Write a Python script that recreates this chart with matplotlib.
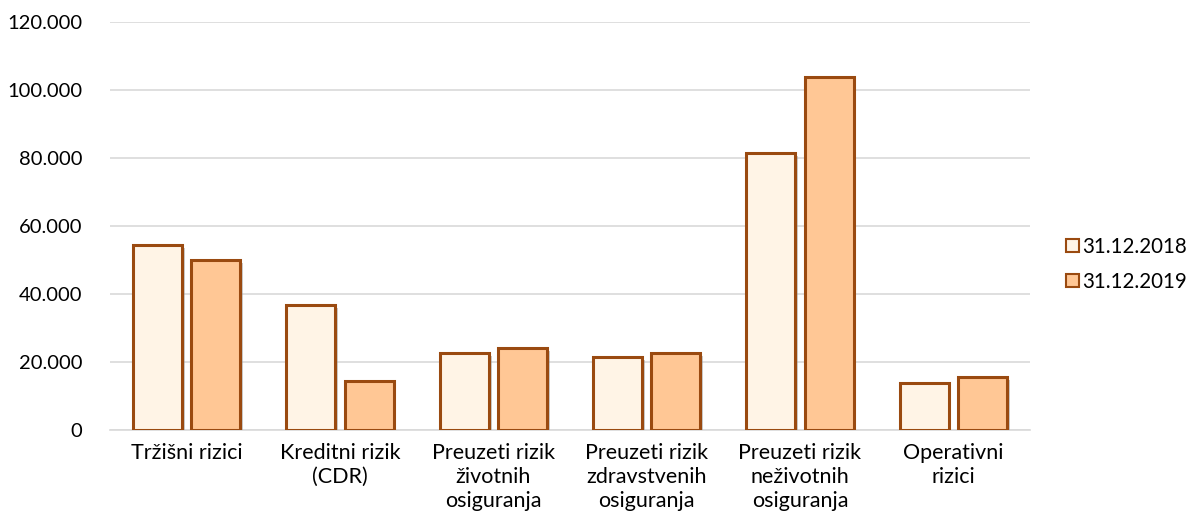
import matplotlib.pyplot as plt
import matplotlib.patheffects as pe
from matplotlib.patches import Patch
import numpy as np

plt.rcParams['font.family'] = ['Lato', 'DejaVu Sans']

categories = ['Tržišni rizici', 'Kreditni rizik\n(CDR)', 'Preuzeti rizik\nživotnih\nosiguranja',
              'Preuzeti rizik\nzdravstvenih\nosiguranja', 'Preuzeti rizik\nneživotnih\nosiguranja',
              'Operativni\nrizici']
series_labels = ['31.12.2018', '31.12.2019']
values_2018 = [54400, 36800, 22600, 21500, 81500, 13800]
values_2019 = [50000, 14400, 24100, 22600, 103800, 15600]
y_ticks = [0, 20000, 40000, 60000, 80000, 100000, 120000]

fill_colors = ['#FFF4E6', '#FFC795']
edge_color = '#9A4A10'

fig = plt.figure(figsize=(12.01, 5.31), dpi=100)
ax = fig.add_axes([0.0916, 0.1902, 0.766, 0.7684])

x = np.arange(len(categories))
width = 0.32
offset = 0.19
shadow = [pe.SimplePatchShadow(offset=(2, -2), shadow_rgbFace='#999999', alpha=0.5), pe.Normal()]
for vals, col, sh in [(values_2018, fill_colors[0], -offset), (values_2019, fill_colors[1], offset)]:
    bars = ax.bar(x + sh, vals, width, color=col, edgecolor=edge_color, linewidth=2.2, zorder=3)
    for b in bars:
        b.set_path_effects(shadow)

ax.set_ylim(0, 120000)
ax.set_xlim(-0.5, len(categories) - 0.5)
ax.set_yticks(y_ticks)
ax.set_yticklabels(['0' if v == 0 else f'{v:,}'.replace(',', '.') for v in y_ticks])
ax.set_xticks(x)
ax.set_xticklabels(categories, linespacing=1.28, va='top')
ax.tick_params(axis='both', length=0, colors='#000000')
ax.tick_params(axis='x', pad=9, labelsize=15.5)
ax.tick_params(axis='y', pad=20, labelsize=14.5)
ax.yaxis.grid(True, color='#D9D9D9', linewidth=1.2, zorder=0)
ax.set_axisbelow(True)
for side in ['top', 'right', 'left']:
    ax.spines[side].set_visible(False)
ax.spines['bottom'].set_color('#D9D9D9')
ax.spines['bottom'].set_linewidth(1.2)

handles = [Patch(facecolor=fill_colors[i], edgecolor=edge_color, linewidth=1.5) for i in range(2)]
fig.legend(handles, series_labels, loc='center left', bbox_to_anchor=(0.888, 0.502), frameon=False,
           fontsize=14.8, handlelength=0.6, handleheight=0.6, handletextpad=0.15, labelspacing=0.75,
           borderpad=0, borderaxespad=0)

fig.savefig('out.png', dpi=100)
